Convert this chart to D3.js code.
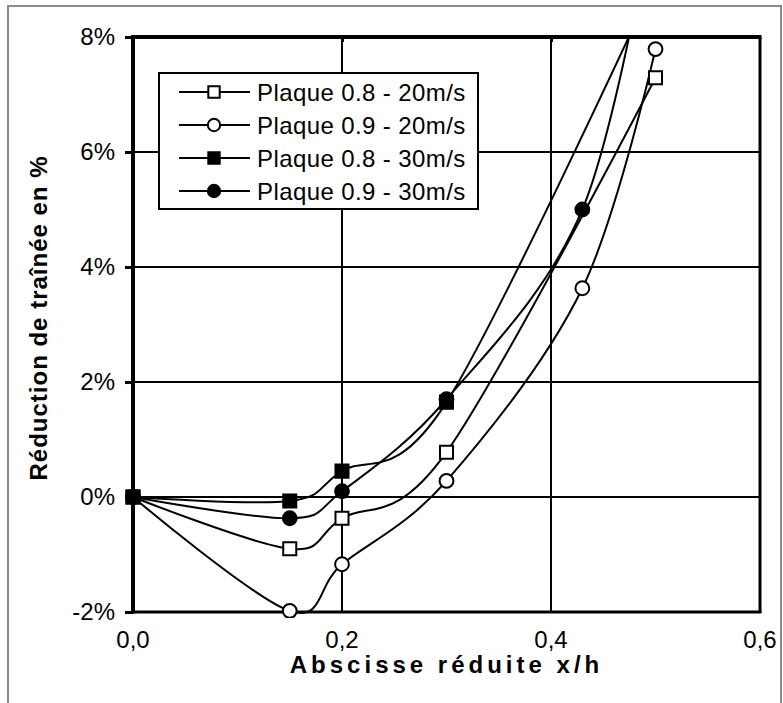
<!DOCTYPE html>
<html>
<head>
<meta charset="utf-8">
<script src="https://cdn.jsdelivr.net/npm/d3@7"></script>
<style>
  body { margin: 0; background: #fff; }
  text { font-family: "Liberation Sans", Arial, sans-serif; fill: #000; }
</style>
</head>
<body>
<svg id="chart"></svg>
<script>
//DATA (x/h and drag reduction in %)
const xSquares = [0, 0.15, 0.2, 0.3, 0.5];
const xCircles = [0, 0.15, 0.2, 0.3, 0.43, 0.5];

const plaque08_20 = [0, -0.9, -0.37, 0.78, 7.29];
const plaque09_20 = [0, -1.98, -1.17, 0.28, 3.63, 7.79];
const plaque08_30 = [0, -0.07, 0.45, 1.65, 9.0];
const plaque09_30 = [0, -0.37, 0.1, 1.7, 5.0, 10.4];

const seriesNames = ['Plaque 0.8 - 20m/s', 'Plaque 0.9 - 20m/s', 'Plaque 0.8 - 30m/s', 'Plaque 0.9 - 30m/s'];
const xTicks = [0, 0.2, 0.4, 0.6];
const yTicks = [-2, 0, 2, 4, 6, 8];

function buildChart() {
    const width = 783;
    const height = 703;
    const svg = d3.select('#chart').attr('width', width).attr('height', height);

    //plot area in pixels
    const left = 133, right = 760, top = 37, bottom = 612;

    const x = d3.scaleLinear().domain([0, 0.6]).range([left, right]);
    const y = d3.scaleLinear().domain([-2, 8]).range([bottom, top]);

    //grey frame round the picture
    svg.append('rect')
        .attr('x', 8).attr('y', 6)
        .attr('width', 773).attr('height', 720)
        .attr('fill', 'none').attr('stroke', '#8a8a8a').attr('stroke-width', 2);

    //gridlines
    svg.append('g')
        .selectAll('line')
        .data(yTicks.slice(1, -1))
        .enter()
        .append('line')
        .attr('x1', left).attr('x2', right)
        .attr('y1', d => y(d)).attr('y2', d => y(d))
        .attr('stroke', '#000').attr('stroke-width', 2);
    svg.append('g')
        .selectAll('line')
        .data(xTicks.slice(1, -1))
        .enter()
        .append('line')
        .attr('x1', d => x(d)).attr('x2', d => x(d))
        .attr('y1', top).attr('y2', bottom)
        .attr('stroke', '#000').attr('stroke-width', 2);

    //plot border (top, right, bottom)
    svg.append('line').attr('x1', left).attr('x2', right + 1.5).attr('y1', top).attr('y2', top)
        .attr('stroke', '#000').attr('stroke-width', 4);
    svg.append('line').attr('x1', right).attr('x2', right).attr('y1', top).attr('y2', bottom)
        .attr('stroke', '#000').attr('stroke-width', 3);
    svg.append('line').attr('x1', left).attr('x2', right + 1.5).attr('y1', bottom).attr('y2', bottom)
        .attr('stroke', '#000').attr('stroke-width', 3);

    //small ticks under the top edge
    const topAxis = svg.append('g')
        .attr('transform', `translate(0,${top})`)
        .call(d3.axisTop(x).tickValues(xTicks.slice(1, -1)).tickSize(-5).tickFormat(''));
    topAxis.select('.domain').remove();
    topAxis.selectAll('line').attr('stroke-width', 3);

    //y axis on the left, thick
    const yAxis = svg.append('g')
        .attr('transform', `translate(${left},0)`)
        .call(d3.axisLeft(y).tickValues(yTicks).tickSize(8).tickPadding(10).tickFormat(d => d + '%'));
    yAxis.select('.domain').attr('stroke-width', 4).attr('d', `M0,${top - 2}V${bottom + 1.5}`);
    yAxis.selectAll('line').attr('stroke-width', 3);
    yAxis.selectAll('text').attr('font-size', 24).style('font-family', '"Liberation Sans", Arial, sans-serif');

    //x tick labels at the bottom
    svg.append('g')
        .selectAll('text')
        .data(xTicks)
        .enter()
        .append('text')
        .attr('x', d => x(d))
        .attr('y', 648)
        .attr('text-anchor', 'middle')
        .attr('font-size', 24)
        .text(d => d3.format('.1f')(d).replace('.', ','));

    //axis titles
    svg.append('text')
        .attr('x', (left + right) / 2)
        .attr('y', 673)
        .attr('text-anchor', 'middle')
        .attr('font-size', 24).attr('font-weight', 'bold')
        .attr('letter-spacing', 4)
        .text('Abscisse réduite x/h');
    svg.append('text')
        .attr('transform', 'translate(47,318) rotate(-90)')
        .attr('text-anchor', 'middle')
        .attr('font-size', 24).attr('font-weight', 'bold')
        .attr('letter-spacing', 1)
        .text('Réduction de traînée en %');

    //series
    const series = [
        { name: seriesNames[0], xs: xSquares, ys: plaque08_20, shape: d3.symbolSquare, fill: '#fff' },
        { name: seriesNames[1], xs: xCircles, ys: plaque09_20, shape: d3.symbolCircle, fill: '#fff' },
        { name: seriesNames[2], xs: xSquares, ys: plaque08_30, shape: d3.symbolSquare, fill: '#000' },
        { name: seriesNames[3], xs: xCircles, ys: plaque09_30, shape: d3.symbolCircle, fill: '#000' }
    ];

    svg.append('clipPath').attr('id', 'plotclip')
        .append('rect')
        .attr('x', left - 10).attr('y', top)
        .attr('width', right - left + 10).attr('height', bottom - top + 6);

    const line = d3.line()
        .x(d => x(d[0]))
        .y(d => y(d[1]))
        .curve(d3.curveCardinal.tension(0));

    const plot = svg.append('g').attr('clip-path', 'url(#plotclip)');

    series.forEach(s => {
        const pts = s.xs.map((v, i) => [v, s.ys[i]]);
        plot.append('path')
            .attr('d', line(pts))
            .attr('fill', 'none')
            .attr('stroke', '#000')
            .attr('stroke-width', 2);
    });

    series.forEach(s => {
        const pts = s.xs.map((v, i) => [v, s.ys[i]]);
        plot.selectAll(null)
            .data(pts)
            .enter()
            .append('path')
            .attr('transform', d => `translate(${x(d[0])},${y(d[1])})`)
            .attr('d', d3.symbol().type(s.shape).size(s.shape === d3.symbolSquare ? 170 : 150))
            .attr('fill', s.fill)
            .attr('stroke', '#000')
            .attr('stroke-width', 2);
    });

    //legend
    const legend = svg.append('g');
    legend.append('rect')
        .attr('x', 159).attr('y', 73)
        .attr('width', 319).attr('height', 136)
        .attr('fill', '#fff').attr('stroke', '#000').attr('stroke-width', 2);

    const rows = legend.selectAll('g.row')
        .data(series)
        .enter()
        .append('g')
        .attr('class', 'row')
        .attr('transform', (d, i) => `translate(0,${92 + i * 33})`);
    rows.append('line')
        .attr('x1', 179).attr('x2', 250)
        .attr('stroke', '#000').attr('stroke-width', 2);
    rows.append('path')
        .attr('transform', 'translate(214,0)')
        .attr('d', d => d3.symbol().type(d.shape).size(d.shape === d3.symbolSquare ? 130 : 120)())
        .attr('fill', d => d.fill)
        .attr('stroke', '#000').attr('stroke-width', 2);
    rows.append('text')
        .attr('x', 257)
        .attr('y', 8.5)
        .attr('font-size', 24)
        .attr('letter-spacing', 0.4)
        .text(d => d.name);
}

buildChart();
</script>
</body>
</html>
